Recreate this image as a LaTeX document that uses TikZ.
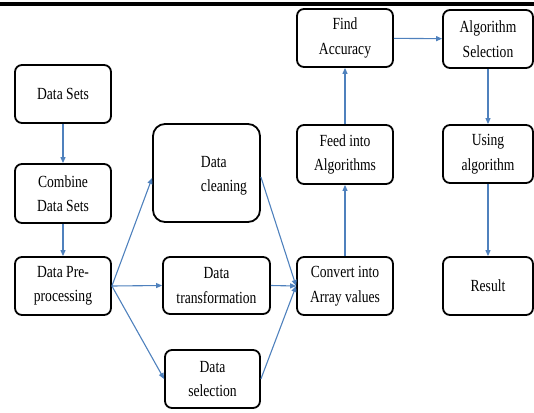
\documentclass[tikz,border=0pt]{standalone}
\usepackage{fontspec}
\setmainfont[FakeStretch=0.8]{Liberation Serif}
\usetikzlibrary{arrows.meta}
\definecolor{flowblue}{HTML}{4F81BD}

\begin{document}
\begin{tikzpicture}[x=1pt, y=-1pt,
    stagefont/.style={font=\fontsize{17}{24.5}\selectfont},
    stage/.style={draw, line width=1.8pt, rounded corners=7pt, align=center, stagefont, inner sep=2pt},
    flow/.style={draw=flowblue, line width=1.1pt, -{Triangle[length=6pt,width=5pt]}},
  ]
  \useasboundingbox (0,0) rectangle (534,412);
  \fill (0,2) rectangle (534,6);
  % left column
  \node[stage, minimum width=96pt, minimum height=58pt] (sets) at (63,94) {Data Sets};
  \node[stage, minimum width=96pt, minimum height=59pt] (combine) at (63,193.5) {Combine\\Data Sets};
  \node[stage, minimum width=96pt, minimum height=58pt] (prep) at (63,286) {Data Pre-\\processing};
  % preprocessing steps
  \node[stage, rounded corners=12pt, minimum width=107pt, minimum height=98pt] (clean) at (206.5,173) {};
  \node[stagefont, align=left] (cleantext) at (224,176) {Data\\cleaning};
  \node[stage, minimum width=107pt, minimum height=57pt] (trans) at (216.5,285.5) {Data\\transformation};
  \node[stage, minimum width=95pt, minimum height=58pt] (select) at (212.5,379) {Data\\selection};
  % model column
  \node[stage, minimum width=96pt, minimum height=58pt] (convert) at (345,286) {Convert into\\Array values};
  \node[stage, minimum width=96pt, minimum height=59pt] (feed) at (345,154.5) {Feed into\\Algorithms};
  \node[stage, minimum width=96pt, minimum height=58pt] (acc) at (345,38) {Find\\Accuracy};
  % right column
  \node[stage, minimum width=90pt, minimum height=58pt] (algsel) at (488,39) {Algorithm\\Selection};
  \node[stage, minimum width=90pt, minimum height=58pt] (using) at (488,154) {Using\\algorithm};
  \node[stage, minimum width=90pt, minimum height=58pt] (result) at (488,286) {Result};
  \draw[flow] (sets) -- (combine);
  \draw[flow] (combine) -- (prep);
  \draw[flow] (prep.east) -- ([yshift=-5pt]clean.west);
  \draw[flow] (prep.east) -- (trans.west);
  \draw[flow] (prep.east) -- (select.west);
  \draw[flow] ([yshift=-4pt]clean.east) -- (convert.west);
  \draw[flow] (trans.east) -- (convert.west);
  \draw[flow] (select.east) -- (convert.west);
  \draw[flow] (convert) -- (feed);
  \draw[flow] (feed) -- (acc);
  \draw[flow] (acc) -- (algsel);
  \draw[flow] (algsel) -- (using);
  \draw[flow] (using) -- (result);
\end{tikzpicture}
\end{document}
